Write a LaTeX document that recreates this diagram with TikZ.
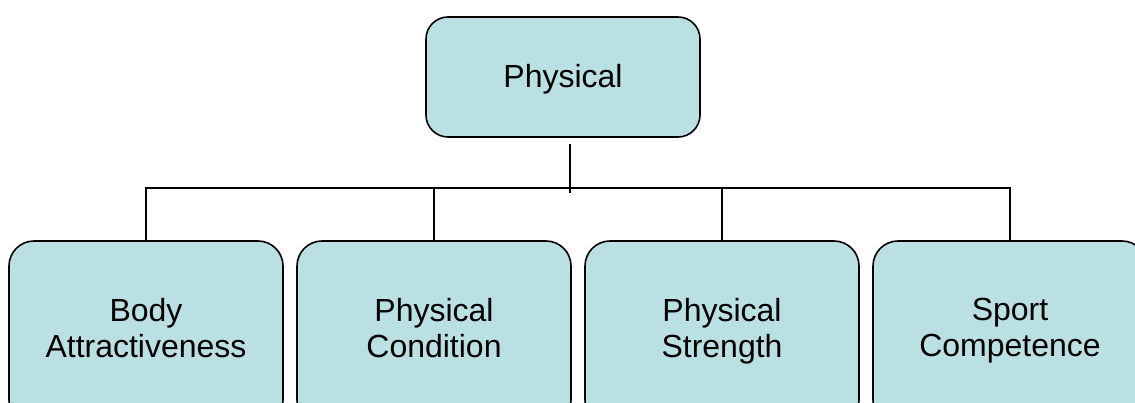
\documentclass[tikz,border=0pt]{standalone}
\usepackage{fontspec}
\setmainfont{Liberation Sans}
\usetikzlibrary{positioning}
\definecolor{boxfill}{HTML}{BBE0E3}
\begin{document}
\begin{tikzpicture}[x=1pt, y=-1pt, node distance=12.4pt, every node/.style={font=\fontsize{32}{36}\selectfont},
      box/.style={draw=black, fill=boxfill, rounded corners=22pt, line width=1.6pt, align=center, minimum width=274pt, inner sep=0pt},
      lvl/.style={box, rounded corners=25pt, minimum height=184pt, execute at begin node=\strut, execute at end node=\strut},
      link/.style={draw=black, line width=1.6pt}]
    \useasboundingbox (0,0) rectangle (1135,403);
    \node[box, minimum height=120pt, text depth=2pt] (phys) at (563,77) {Physical};
    \node[lvl] (body) at (146,333) {Body\\Attractiveness};
    \node[lvl, right=of body] (cond) {Physical\\Condition};
    \node[lvl, right=of cond] (str) {Physical\\Strength};
    \node[lvl, right=of str] (sport) {Sport\\Competence};
    \coordinate (bus) at (0,188);
    \coordinate (stem) at (570,144);
    \draw[link] (stem) -- ++(0,49);
    \draw[link] (body.north) -- (body.north |- bus) -- (sport.north |- bus) -- (sport.north);
    \draw[link] (cond.north) -- (cond.north |- bus); \draw[link] (str.north) -- (str.north |- bus);
  \end{tikzpicture}
\end{document}
